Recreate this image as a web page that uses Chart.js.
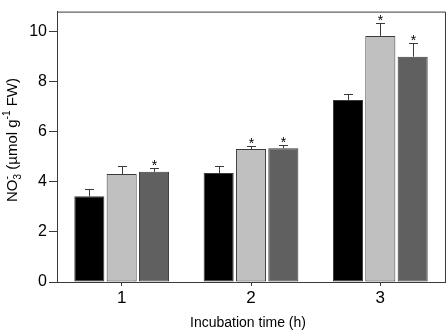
<!DOCTYPE html>
<html>
<head>
<meta charset="utf-8">
<script src="https://cdn.jsdelivr.net/npm/chart.js@4/dist/chart.umd.min.js"></script>
<style>
	body { margin: 0; background: #fff; }
	canvas { display: block; }
</style>
</head>
<body>
<canvas id="c" width="448" height="333"></canvas>
<script>
// data
const categories = ['1', '2', '3']
const blackVals = [3.42, 4.35, 7.27]
const lightVals = [4.31, 5.31, 9.83]
const darkVals = [4.40, 5.34, 9.00]
const blackErr = [0.28, 0.27, 0.25]
const lightErr = [0.31, 0.14, 0.51]
const darkErr = [0.14, 0.15, 0.56]
const blackStar = [false, false, false]
const lightStar = [false, true, true]
const darkStar = [true, true, true]
const yTicks = [0, 2, 4, 6, 8, 10]

const FONT = '"Liberation Sans", Arial, sans-serif'
const LINE = '#3a3a3a'

const errs = [blackErr, lightErr, darkErr]
const stars = [blackStar, lightStar, darkStar]

const extras = {
	id: 'extras',
	afterDatasetsDraw: c => {
		const ctx = c.ctx
		const y = c.scales.y
		const area = c.chartArea
		ctx.save()
		// error bars + asterisks
		c.data.datasets.forEach((d, i) => {
			c.getDatasetMeta(i).data.forEach((bar, j) => {
				const top = Math.round(y.getPixelForValue(d.data[j] + errs[i][j])) + 0.5
				const x = Math.round(bar.x) + 0.5
				ctx.strokeStyle = LINE
				ctx.lineWidth = 1
				ctx.beginPath()
				ctx.moveTo(x, bar.y)
				ctx.lineTo(x, top)
				ctx.moveTo(x - 4.5, top)
				ctx.lineTo(x + 4.5, top)
				ctx.stroke()
				if (stars[i][j]) {
					ctx.fillStyle = '#000'
					ctx.font = '14px ' + FONT
					ctx.textAlign = 'center'
					ctx.textBaseline = 'alphabetic'
					ctx.fillText('*', x, top + 1)
				}
			})
		})
		// frame top and right
		ctx.strokeStyle = LINE
		ctx.beginPath()
		ctx.moveTo(area.left, area.top + 0.5)
		ctx.lineTo(area.right + 0.5, area.top + 0.5)
		ctx.lineTo(area.right + 0.5, area.bottom)
		ctx.stroke()
		ctx.restore()
	},
	afterDraw: c => {
		const ctx = c.ctx
		ctx.save()
		ctx.fillStyle = '#000'
		// x title
		ctx.font = '14px ' + FONT
		ctx.textAlign = 'center'
		ctx.textBaseline = 'alphabetic'
		ctx.fillText('Incubation time (h)', 248, 327)
		// y title with sub/superscripts
		const parts = [
			{t: 'NO', s: 15, dy: 0},
			{t: '3', s: 10, dy: 4, stack: true},
			{t: '-', s: 10, dy: -7},
			{t: ' (\u00b5mol g', s: 15, dy: 0},
			{t: '-1', s: 10, dy: -7},
			{t: ' FW)', s: 15, dy: 0},
		]
		const w = p => { ctx.font = p.s + 'px ' + FONT; return ctx.measureText(p.t).width }
		let total = 0
		parts.forEach(p => { if (!p.stack) total += w(p) })
		total += Math.max(w(parts[1]), w(parts[2])) - w(parts[2])
		ctx.translate(17, 140)
		ctx.rotate(-Math.PI / 2)
		ctx.textAlign = 'left'
		let x = -total / 2
		parts.forEach((p, i) => {
			ctx.font = p.s + 'px ' + FONT
			ctx.fillText(p.t, x, p.dy)
			if (p.stack) return
			x += i === 2 ? Math.max(w(parts[1]), w(p)) : w(p)
		})
		ctx.restore()
	}
}

const ds = (data, color) => ({
	data: data,
	backgroundColor: color,
	borderColor: LINE,
	borderWidth: 1,
	borderSkipped: false,
	categoryPercentage: 0.75,
	barPercentage: 0.93,
})

new Chart(document.getElementById('c'), {
	type: 'bar',
	data: {
		labels: categories,
		datasets: [
			ds(blackVals, '#000000'),
			ds(lightVals, '#c0c0c0'),
			ds(darkVals, '#606060'),
		]
	},
	options: {
		responsive: false,
		animation: false,
		devicePixelRatio: 1,
		layout: { padding: { top: 2, right: 3, left: 0, bottom: 0 } },
		plugins: {
			legend: { display: false },
			tooltip: { enabled: false },
		},
		scales: {
			x: {
				offset: true,
				afterFit: s => { s.height = 51 },
				grid: { offset: false, drawOnChartArea: false, drawTicks: true, tickLength: 4, color: LINE },
				border: { display: true, color: LINE, width: 1 },
				ticks: { color: '#000', font: { family: FONT, size: 17 }, padding: 2, maxRotation: 0 },
			},
			y: {
				min: 0,
				max: 10.8,
				afterFit: s => { s.width = 57 },
				afterBuildTicks: s => { s.ticks = yTicks.map(v => ({ value: v })) },
				grid: { drawOnChartArea: false, drawTicks: true, tickLength: 8, color: LINE },
				border: { display: true, color: LINE, width: 1 },
				ticks: { color: '#000', font: { family: FONT, size: 16 }, padding: 2 },
			}
		}
	},
	plugins: [extras]
})
</script>
</body>
</html>
